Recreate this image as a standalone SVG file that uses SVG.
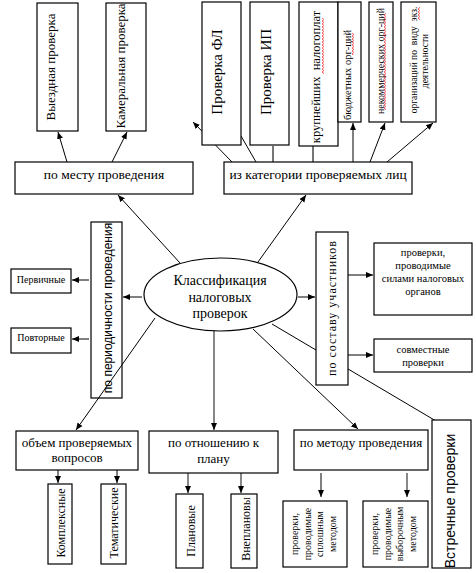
<svg xmlns="http://www.w3.org/2000/svg" width="476" height="573" viewBox="0 0 476 573" font-family="Liberation Serif, Times New Roman, DejaVu Serif, serif">
<style>
.box{fill:#fff;stroke:#000;stroke-width:1.2}
.nf{fill:none;stroke:#000;stroke-width:1.2}
.ln{stroke:#000;stroke-width:1;fill:none}
.lm{stroke:#000;stroke-width:1;fill:none;marker-end:url(#a)}
.lg{stroke:#555;stroke-width:1.6;fill:none}
.lgm{stroke:#555;stroke-width:1.4;fill:none;marker-end:url(#a)}
.t{font-family:'Liberation Serif','Times New Roman','DejaVu Serif',serif;fill:#000;text-anchor:middle}
.s{font-family:'Liberation Sans',Arial,sans-serif;fill:#000;text-anchor:middle}
.sq{fill:url(#wv)}
</style>
<defs>
<marker id="a" markerWidth="8" markerHeight="8" refX="7" refY="4" orient="auto" markerUnits="userSpaceOnUse"><path d="M0,1 L7,4 L0,7 Z" fill="#000"/></marker>
<pattern id="wv" patternUnits="userSpaceOnUse" width="2" height="3"><path d="M0.3,0 L1.7,1.5 L0.3,3" stroke="#e00" stroke-width="0.8" fill="none"/></pattern>
</defs>

<g id="connectors">
<line class="lm" x1="67" y1="162" x2="58" y2="132"/>
<line class="lm" x1="112" y1="162" x2="127" y2="132"/>
<line class="lm" x1="232" y1="162" x2="193" y2="122"/>
<line class="ln" x1="256" y1="162" x2="241" y2="136"/>
<line class="lg" x1="273" y1="146" x2="273" y2="162"/>
<line class="lg" x1="313" y1="146" x2="313" y2="162"/>
<line class="lm" x1="353" y1="162" x2="353" y2="123"/>
<line class="lm" x1="370" y1="162" x2="385" y2="123"/>
<line class="lm" x1="387" y1="162" x2="433" y2="123"/>
<line class="lm" x1="180" y1="263" x2="118" y2="195"/>
<line class="lm" x1="258" y1="262" x2="306" y2="195"/>
<line class="lm" x1="142" y1="297" x2="123" y2="297"/>
<line class="lm" x1="89" y1="280" x2="72" y2="280"/>
<line class="lm" x1="89" y1="339" x2="72" y2="339"/>
<line class="lm" x1="298" y1="297" x2="315" y2="297"/>
<line class="lm" x1="348" y1="275" x2="373" y2="275"/>
<line class="lm" x1="348" y1="355" x2="373" y2="355"/>
<line class="lm" x1="155" y1="318" x2="76" y2="430"/>
<line class="lgm" x1="214" y1="331" x2="214" y2="430"/>
<line class="lm" x1="253" y1="329" x2="358" y2="429"/>
<line class="ln" x1="272" y1="324" x2="436" y2="421"/>
<line class="lm" x1="58" y1="470" x2="58" y2="483"/>
<line class="lm" x1="117" y1="470" x2="117" y2="483"/>
<line class="lgm" x1="188" y1="473" x2="188" y2="493"/>
<line class="lgm" x1="241" y1="473" x2="241" y2="493"/>
<line class="lm" x1="321" y1="473" x2="321" y2="497"/>
<line class="lgm" x1="407" y1="473" x2="407" y2="497"/>
</g>

<g id="n-vyezd"><rect class="box" x="37" y="3" width="41" height="128"/><text class="t" font-size="13" transform="translate(55,67) rotate(-90)">Выездная проверка</text></g>
<g id="n-kameral"><rect class="box" x="106" y="3" width="40" height="128"/><text class="t" font-size="13" transform="translate(125,66) rotate(-90)">Камеральная проверка</text></g>
<g id="n-mesto"><rect class="box" x="15" y="162" width="178" height="32"/><text class="t" font-size="13.5" x="104" y="179">по месту проведения</text></g>

<g id="n-fl"><rect class="box" x="202" y="2" width="39" height="143"/><text class="t" font-size="15" transform="translate(222,72) rotate(-90)">Проверка ФЛ</text></g>
<g id="n-ip"><rect class="box" x="250" y="2" width="39" height="143"/><text class="t" font-size="15" transform="translate(271,72) rotate(-90)">Проверка ИП</text></g>
<g id="n-krup"><rect class="box" x="299" y="2" width="39" height="144"/><text class="t" font-size="12.5" transform="translate(320,77) rotate(-90)" xml:space="preserve">крупнейших  налогоплат</text><rect class="sq" x="322" y="18" width="2" height="56"/></g>
<g id="n-budg"><rect class="box" x="338" y="2" width="23" height="120"/><text class="t" font-size="10.5" transform="translate(351,75) rotate(-90)">бюджетных орг-ций</text><rect class="sq" x="352" y="33" width="2" height="22"/></g>
<g id="n-nekom"><rect class="box" x="369" y="2" width="24" height="120"/><text class="t" font-size="10" transform="translate(384,61) rotate(-90)">некоммерческих орг-ций</text><rect class="sq" x="384" y="13" width="2" height="97"/></g>
<g id="n-org"><rect class="box" x="401" y="2" width="35" height="120"/><text class="t" font-size="9.5" transform="translate(417,60) rotate(-90)" xml:space="preserve">организаций по  виду  экз.</text><text class="t" font-size="9.5" transform="translate(428,61) rotate(-90)">деятельности</text><rect class="sq" x="418" y="7" width="2" height="13"/></g>
<g id="n-kateg"><rect class="box" x="224" y="162" width="188" height="32"/><text class="t" font-size="13.5" x="318" y="179">из категории проверяемых лиц</text></g>

<g id="n-period"><rect class="nf" x="91" y="222" width="31" height="176"/><text class="s" font-size="12" transform="translate(112,308) rotate(-90)">по периодичности проведения</text></g>
<g id="n-perv"><rect class="box" x="11" y="269" width="60" height="24"/><text class="t" font-size="10" x="41" y="283">Первичные</text></g>
<g id="n-povt"><rect class="box" x="11" y="328" width="60" height="25"/><text class="t" font-size="10" x="41" y="341">Повторные</text></g>

<g id="n-center"><ellipse cx="220.5" cy="294.5" rx="76.5" ry="36.5" fill="#fff" stroke="#000" stroke-width="1.2"/><text class="t" font-size="14" x="220" y="285">Классификация</text><text class="t" font-size="14" x="220" y="302">налоговых</text><text class="t" font-size="14" x="220" y="318">проверок</text></g>

<g id="n-sostav"><rect class="box" x="316" y="232" width="32" height="153"/><text class="t" font-size="12" letter-spacing="1" transform="translate(336,308) rotate(-90)">по составу участников</text></g>
<g id="n-silami"><rect class="box" x="374" y="243" width="98" height="72"/><text class="t" font-size="10.5" x="423" y="256">проверки,</text><text class="t" font-size="10.5" x="423" y="269">проводимые</text><text class="t" font-size="10.5" x="423" y="282">силами налоговых</text><text class="t" font-size="10.5" x="423" y="295">органов</text></g>
<g id="n-sovm"><rect class="box" x="374" y="339" width="98" height="33"/><text class="t" font-size="10.5" x="423" y="353">совместные</text><text class="t" font-size="10.5" x="423" y="366">проверки</text></g>

<g id="n-obem"><rect class="box" x="16" y="431" width="122" height="39"/><text class="t" font-size="13" x="77" y="447">объем проверяемых</text><text class="t" font-size="13" x="77" y="462">вопросов</text></g>
<g id="n-kompl"><rect class="box" x="48" y="484" width="24" height="80"/><text class="t" font-size="12" transform="translate(65,523) rotate(-90)">Комплексные</text></g>
<g id="n-temat"><rect class="box" x="101" y="484" width="25" height="80"/><text class="t" font-size="12" transform="translate(118,523) rotate(-90)">Тематические</text></g>

<g id="n-plan"><rect class="box" x="149" y="431" width="129" height="42"/><text class="t" font-size="13" x="213.5" y="447">по отношению к</text><text class="t" font-size="13" x="213.5" y="463">плану</text></g>
<g id="n-planov"><rect class="box" x="176" y="494" width="27" height="74"/><text class="t" font-size="12" transform="translate(195,531) rotate(-90)">Плановые</text></g>
<g id="n-vneplan"><rect class="box" x="231" y="494" width="26" height="74"/><text class="t" font-size="12" transform="translate(250,529) rotate(-90)">Внеплановы</text></g>

<g id="n-metod"><rect class="box" x="294" y="430" width="134" height="40"/><text class="t" font-size="13" x="361" y="447">по методу проведения</text></g>
<g id="n-splosh"><rect class="box" x="283" y="501" width="64" height="66"/>
<text class="t" font-size="10" transform="translate(298,534) rotate(-90)">проверки,</text>
<text class="t" font-size="10" transform="translate(311,534) rotate(-90)">проводимые</text>
<text class="t" font-size="10" transform="translate(323,534) rotate(-90)">сплошным</text>
<text class="t" font-size="10" transform="translate(336,534) rotate(-90)">методом</text></g>
<g id="n-vyborn"><rect class="box" x="363" y="501" width="65" height="66"/>
<text class="t" font-size="10" transform="translate(378,534) rotate(-90)">проверки,</text>
<text class="t" font-size="10" transform="translate(391,534) rotate(-90)">проводимые</text>
<text class="t" font-size="10" transform="translate(403,534) rotate(-90)">выборочным</text>
<text class="t" font-size="10" transform="translate(416,534) rotate(-90)">методом</text></g>
<g id="n-vstrech"><rect class="box" x="432" y="420" width="39" height="148"/><text class="s" font-size="14" transform="translate(455,501) rotate(-90)">Встречные проверки</text></g>
</svg>
